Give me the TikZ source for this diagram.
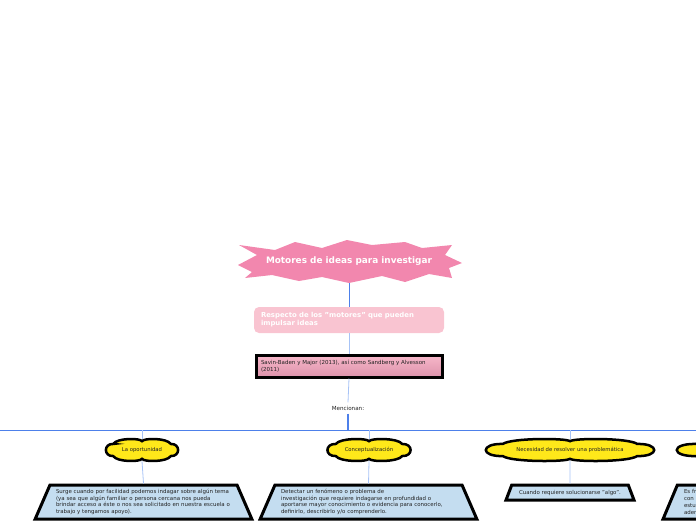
\documentclass[tikz,border=0pt]{standalone}
\usepackage{fontspec}
\setmainfont{DejaVu Sans}
\usetikzlibrary{shapes.geometric}
\definecolor{starpink}{HTML}{F287AE}
\definecolor{softpink}{HTML}{F9C4D1}
\definecolor{linkblue}{HTML}{4D80EA}
\definecolor{paleblue}{HTML}{A7C3F6}
\definecolor{cloudyellow}{HTML}{FFE81A}
\definecolor{trapblue}{HTML}{C4DDF0}
\definecolor{txtgray}{HTML}{222222}
% cloud outline: position, half width, half height
\newcommand{\puffcloud}[3]{%
  \draw[draw=black, line width=2.5pt, fill=cloudyellow, shift={#1}, xscale=#2, yscale=#3]
    (-0.8,-0.55) .. controls (-0.7,-1.1) and (-0.05,-1.1) .. (0,-0.8)
    .. controls (0.05,-1.1) and (0.7,-1.1) .. (0.8,-0.55)
    .. controls (1.07,-0.6) and (1.07,0.6) .. (0.8,0.55)
    .. controls (0.7,1.1) and (0.05,1.1) .. (0,0.8)
    .. controls (-0.05,1.1) and (-0.7,1.1) .. (-0.8,0.55)
    .. controls (-1.07,0.6) and (-1.07,-0.6) .. cycle;}

\begin{document}
\begin{tikzpicture}[x=1pt,y=-1pt,
  idea/.style={font=\fontsize{5.3}{6.5}\selectfont, text=txtgray, inner sep=0pt, minimum height=22pt},
  detail/.style={trapezium, trapezium left angle=66, trapezium right angle=66, trapezium stretches=true, draw=black, line width=3pt, fill=trapblue, font=\fontsize{5.45}{6.7}\selectfont, text=txtgray, align=left},
  link/.style={draw=paleblue, line width=0.8pt}]
\useasboundingbox (0,0) rectangle (696,520);
\clip (0,0) rectangle (696,520);
% upper part
\node[minimum width=222pt, minimum height=44pt] (motores) at (349,261) {};
\fill[starpink, shift={(349,261)}] (-111,4) -- (-92,-6) -- (-110,-16) -- (-74,-11) -- (-54,-19) -- (-27,-13)
  -- (-2,-21) -- (23,-16) -- (56,-19) -- (73,-13) -- (103,-16) -- (96,-6) -- (113,2) -- (100,7)
  -- (103,17) -- (80,13) -- (56,21) -- (33,15) -- (0,22) -- (-27,16) -- (-50,20) -- (-77,14)
  -- (-104,17) -- (-97,11) -- cycle;
\node[font=\bfseries\fontsize{8.9}{10}\selectfont, text=white] at (motores.center) {Motores de ideas para investigar};
\node[rounded corners=5pt, fill=softpink, minimum width=190pt, minimum height=26pt, text width=176pt, align=left, font=\bfseries\fontsize{6.9}{8}\selectfont, text=white] (respecto) at (349,320) {Respecto de los "motores" que pueden\\impulsar ideas};
\node[draw=black, line width=3pt, top color=softpink!80!starpink, bottom color=starpink!55!softpink!90!black, minimum width=186pt, minimum height=22pt, text width=176pt, align=left, font=\fontsize{5.5}{7}\selectfont, text=txtgray] (savin) at (349,366) {Savin-Baden y Major (2013), así como Sandberg y Alvesson\\(2011)};
\node[font=\fontsize{5.6}{7}\selectfont, text=txtgray] (mencionan) at (348,408) {Mencionan:};
\draw[draw=linkblue, line width=1pt] (motores.south) -- (respecto.north);
\draw[link] (respecto.south) -- (savin.north);
\draw[link] (savin.south) -- (mencionan.north);
\coordinate (busL) at (0,430);
\coordinate (busR) at (696,430);
\draw[draw=linkblue, line width=1.3pt] (mencionan.south) -- (mencionan.south |- busL);
\draw[draw=linkblue, line width=1pt] (busL) -- (busR);
% the four motors
\puffcloud{(142,450)}{36}{11}
\puffcloud{(369,450)}{41.5}{11}
\puffcloud{(570,450)}{84}{11}
\puffcloud{(771,450)}{94}{11}
\node[idea, minimum width=72pt] (oportunidad) at (142,450) {La oportunidad};
\node[idea, minimum width=83pt] (concepto) at (369,450) {Conceptualización};
\node[idea, minimum width=168pt] (necesidad) at (570,450) {Necesidad de resolver una problemática};
\node[idea, minimum width=188pt] (cuarto) at (771,450) {};
\foreach \n in {oportunidad,concepto,necesidad,cuarto}
  \draw[link] (\n.north) -- (\n.north |- busL);
\node[detail, minimum width=217pt, minimum height=34pt, text width=175pt] (surge) at (143.5,502) {Surge cuando por facilidad podemos indagar sobre algún tema\\(ya sea que algún familiar o persona cercana nos pueda\\brindar acceso a éste o nos sea solicitado en nuestra escuela o\\trabajo y tengamos apoyo).};
\node[detail, minimum width=217pt, minimum height=34pt, text width=175pt] (detectar) at (368.5,502) {Detectar un fenómeno o problema de\\ investigación que requiere indagarse en profundidad o\\aportarse mayor conocimiento o evidencia para conocerlo,\\definirlo, describirlo y/o comprenderlo.};
\node[detail, minimum width=128pt, minimum height=15pt, align=center] (solucion) at (570,492.5) {Cuando requiere solucionarse "algo".};
\node[detail, minimum width=217pt, minimum height=34pt, text width=175pt] (cuartodet) at (771.5,502) {Es fr\\con\\estu\\ader};
\draw[link] (oportunidad.south) -- (surge.north);
\draw[link] (concepto.south) -- (detectar.north);
\draw[link] (necesidad.south) -- (solucion.north);
\draw[link] (cuarto.south) -- (cuartodet.north);
\end{tikzpicture}
\end{document}
